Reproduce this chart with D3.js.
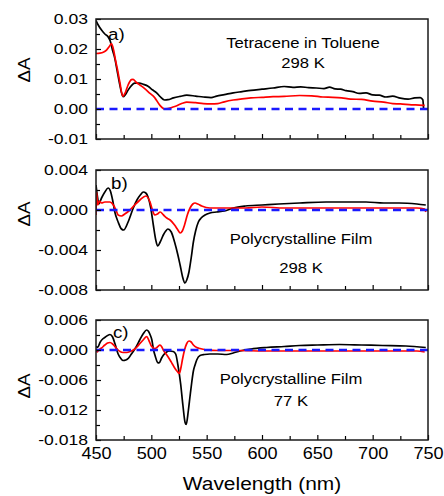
<!DOCTYPE html>
<html>
<head>
<meta charset="utf-8">
<script src="https://cdn.jsdelivr.net/npm/d3@7"></script>
<style>
  html, body { margin: 0; padding: 0; background: #fff; }
  svg { display: block; }
  text { font-family: "Liberation Sans", Arial, sans-serif; fill: #000; }
</style>
</head>
<body>
<svg id="chart" width="444" height="496"></svg>
<script>
// ---------------- DATA ----------------
const xTicks = [450, 500, 550, 600, 650, 700, 750];
const xMinorTicks = [475, 525, 575, 625, 675, 725];

const yTicksA = [-0.01, 0.00, 0.01, 0.02, 0.03];
const yMinorA = [-0.005, 0.005, 0.015, 0.025];
const yTicksB = [-0.008, -0.004, 0.000, 0.004];
const yMinorB = [-0.006, -0.002, 0.002];
const yTicksC = [-0.018, -0.012, -0.006, 0.000, 0.006];
const yMinorC = [-0.015, -0.009, -0.003, 0.003];

const panelLetters = ["a)", "b)", "c)"];
const panelTitles = [["Tetracene in Toluene", "298 K"], ["Polycrystalline Film", "298 K"], ["Polycrystalline Film", "77 K"]];

// Panel a: tetracene in toluene, 298 K  [wavelength nm, dA]
const tolueneBlack = [
  [450,0.0295],[452,0.0280],[455,0.0263],[458,0.0250],[461,0.0240],[463,0.0225],[465,0.0195],
  [467,0.0169],[469,0.0130],[471,0.0090],[473,0.0055],[474.5,0.0041],[476.5,0.0048],[479,0.0063],
  [482,0.0078],[485,0.0086],[489,0.0086],[493,0.0082],[497,0.0076],[501,0.0064],[504.8,0.0054],
  [508,0.0041],[512,0.0030],[515,0.0031],[520,0.0037],[526,0.0042],[532,0.0046],[540,0.0043],
  [547,0.0040],[554,0.0038],[559,0.0043],[566,0.0048],[574,0.0054],[582,0.0058],[590,0.0062],
  [600,0.0066],[610,0.0070],[620,0.0075],[628,0.0072],[635,0.0074],[642,0.0071],[649,0.0070],
  [656,0.0068],[661,0.0073],[666,0.0067],[671,0.0066],[676,0.0061],[682,0.0058],[688,0.0052],
  [694,0.0054],[700,0.0047],[706,0.0046],[712,0.0040],[718,0.0043],[725,0.0036],[732,0.0033],
  [738,0.0037],[743,0.0038],[745.3,0.0031],[746,0.0002]
];
const tolueneRed = [
  [450,0.0185],[453.6,0.0186],[457,0.0190],[459.7,0.0197],[462,0.0208],[464,0.0218],[466,0.0195],
  [467.5,0.0165],[469.5,0.0130],[471.5,0.0090],[474.2,0.0043],[476.5,0.0055],[479,0.0080],
  [482,0.0098],[483.5,0.0099],[486,0.0090],[489.7,0.0080],[494,0.0068],[498.8,0.0052],[503,0.0038],
  [507.8,0.0012],[512,0.0000],[515,0.0001],[519,0.0006],[523,0.0011],[528,0.0019],[532,0.0023],
  [540,0.0021],[547,0.0018],[554,0.0017],[560,0.0018],[566,0.0024],[574,0.0030],[582,0.0034],
  [590,0.0037],[600,0.0039],[610,0.0041],[620,0.0042],[634,0.0045],[645,0.0044],[655,0.0040],
  [664,0.0039],[672,0.0037],[680,0.0033],[690,0.0032],[700,0.0026],[710,0.0023],[718,0.0018],
  [725,0.0017],[735,0.0014],[742,0.0013],[747,0.0012]
];

// Panel b: polycrystalline film, 298 K
const film298Black = [
  [450,0.0025],[451.5,0.0012],[452.5,0.0006],[455,0.0012],[458,0.0018],[461,0.0022],[463,0.0019],
  [465,0.0010],[467,-0.0002],[470,-0.0012],[473,-0.0019],[475,-0.0020],[479,-0.0012],[483.7,0.0002],
  [487,0.0010],[490,0.0015],[492.8,0.0018],[495,0.0017],[497,0.0013],[499.5,0.0002],[501.8,-0.0015],
  [504,-0.0030],[505.7,-0.0036],[508,-0.0032],[510.8,-0.0025],[513,-0.0021],[515,-0.0019],
  [518,-0.0022],[521,-0.0032],[524,-0.0045],[526,-0.0055],[528.5,-0.0068],[530.4,-0.0073],
  [532,-0.0070],[534,-0.0062],[536,-0.0048],[538,-0.0032],[540,-0.0021],[542.5,-0.0012],
  [545,-0.0008],[548.5,-0.0005],[553,-0.0003],[559,-0.0002],[566,-0.0001],[574,0.0002],
  [585,0.0004],[600,0.0005],[615,0.0006],[634,0.0007],[658,0.0008],[676,0.0008],[694,0.0008],
  [710,0.0007],[724,0.0007],[740,0.0006],[748,0.0005]
];
const film298Red = [
  [450,-0.0005],[450.5,0.0018],[451.5,0.0005],[453,0.0009],[455,0.0007],[458,0.0008],[462.6,0.0008],
  [465.7,0.0005],[468,0.0000],[470,-0.0005],[473,-0.0006],[476,-0.0004],[480.7,0.0000],[485,0.0005],
  [489.7,0.0010],[495,0.0014],[498.8,0.0008],[501,0.0000],[503,-0.0005],[505.5,-0.0004],
  [508,-0.0002],[511,-0.0005],[514,-0.0008],[517,-0.0010],[521,-0.0015],[524,-0.0020],
  [526,-0.0023],[528,-0.0021],[530,-0.0015],[532.5,-0.0005],[535,0.0002],[537.5,0.0006],
  [539.5,0.0007],[542,0.0006],[545.5,0.0004],[553,0.0002],[559,0.0002],[570,0.0002],[585,0.0002],
  [600,0.0003],[620,0.0002],[640,0.0002],[660,0.0002],[680,0.0002],[700,0.0002],[720,0.0002],
  [740,0.0002],[747,0.0001],[748,-0.0002]
];

// Panel c: polycrystalline film, 77 K
const film77Black = [
  [450,0.0007],[451.5,0.0005],[453.6,0.0015],[456,0.0022],[458.5,0.0026],[462.6,0.0031],[465,0.0026],
  [467.5,0.0010],[470,-0.0008],[472.5,-0.0017],[474.5,-0.0021],[477,-0.0020],[479.5,-0.0016],
  [482,-0.0008],[484.5,0.0000],[487,0.0009],[489.5,0.0020],[492.8,0.0033],[495.8,0.0040],
  [497.5,0.0037],[499,0.0030],[500.5,0.0020],[502,0.0000],[503.5,-0.0012],[505.7,-0.0025],
  [507,-0.0026],[509.3,-0.0016],[511,-0.0010],[513.8,-0.0004],[516,-0.0002],[519.8,-0.0003],
  [522,-0.0008],[524,-0.0030],[526.5,-0.0068],[528.5,-0.0110],[530.5,-0.0145],[531.5,-0.0149],
  [533.4,-0.0122],[535,-0.0092],[536.5,-0.0065],[538,-0.0042],[539.5,-0.0030],[541,-0.0020],
  [544,-0.0011],[548,-0.0009],[553,-0.0008],[560,-0.0008],[568,-0.0009],[574,-0.0006],[580,-0.0002],
  [590,0.0002],[604,0.0005],[620,0.0007],[634,0.0009],[650,0.0010],[670,0.0011],[690,0.0010],
  [709,0.0009],[730,0.0008],[748,0.0005]
];
const film77Red = [
  [450,0.0002],[451,-0.0004],[452.5,0.0000],[455,0.0004],[458,0.0010],[460.5,0.0014],[462.6,0.0015],
  [465,0.0012],[467,0.0007],[469.5,0.0001],[471.7,-0.0003],[474.5,-0.0005],[477.7,-0.0005],
  [481,-0.0003],[483.7,0.0000],[487,0.0006],[489.7,0.0013],[493,0.0021],[495.8,0.0027],[498,0.0018],
  [500.3,0.0007],[503.3,0.0003],[505.5,0.0006],[507.8,0.0010],[509.5,0.0006],[510.8,0.0000],
  [514,-0.0010],[516.9,-0.0020],[519,-0.0028],[521.4,-0.0037],[523.5,-0.0043],[525.2,-0.0047],
  [526.8,-0.0035],[528.3,-0.0017],[530,0.0000],[532,0.0013],[534,0.0018],[536,0.0016],[538,0.0010],
  [541,0.0005],[544,0.0003],[550,0.0000],[560,-0.0001],[580,-0.0001],[600,-0.0002],[650,-0.0002],
  [700,-0.0002],[740,-0.0002],[747,-0.0004]
];

// ---------------- DRAW ----------------
const svg = d3.select("#chart");
const left = 96, right = 428;
const x = d3.scaleLinear().domain([450, 750]).range([left, right]);

const panels = [
  { top: 19, bottom: 139, domain: [-0.01, 0.03], ticks: yTicksA, minor: yMinorA, dec: 2,
    black: tolueneBlack, red: tolueneRed, letter: [108, 40], title: [303, 48, 68], ylab: 70 },
  { top: 170, bottom: 290, domain: [-0.008, 0.004], ticks: yTicksB, minor: yMinorB, dec: 3,
    black: film298Black, red: film298Red, letter: [111, 189], title: [301, 244, 273], ylab: 214 },
  { top: 320, bottom: 440, domain: [-0.018, 0.006], ticks: yTicksC, minor: yMinorC, dec: 3,
    black: film77Black, red: film77Red, letter: [113, 338], title: [291, 384, 406], ylab: 386 }
];

function sText(g, px, py, str, size, anchor, sx) {
  return g.append("text")
    .attr("transform", `translate(${px},${py}) scale(${sx},1)`)
    .attr("text-anchor", anchor)
    .style("font-size", size + "px")
    .text(str);
}

panels.forEach((p, i) => {
  const y = d3.scaleLinear().domain(p.domain).range([p.bottom, p.top]);
  const g = svg.append("g");

  const clipId = "clip" + i;
  svg.append("clipPath").attr("id", clipId).append("rect")
    .attr("x", left).attr("y", p.top).attr("width", right - left).attr("height", p.bottom - p.top);

  const line = d3.line().x(d => x(d[0])).y(d => y(d[1])).curve(d3.curveMonotoneX);
  const lg = g.append("g").attr("clip-path", `url(#${clipId})`);
  lg.append("path").datum(p.black).attr("d", line)
    .attr("fill", "none").attr("stroke", "#000").attr("stroke-width", 1.7).attr("stroke-linejoin", "round");
  lg.append("path").datum(p.red).attr("d", line)
    .attr("fill", "none").attr("stroke", "#ff0000").attr("stroke-width", 1.7).attr("stroke-linejoin", "round");
  lg.append("line")
    .attr("x1", x(450)).attr("x2", x(750)).attr("y1", y(0)).attr("y2", y(0))
    .attr("stroke", "#1a1aff").attr("stroke-width", 2.4).attr("stroke-dasharray", "8,5.5");

  const sxTick = 1.17;
  const ya = g.append("g").attr("transform", `translate(${left},0)`)
    .call(d3.axisLeft(y).tickValues(p.ticks).tickSize(-5).tickPadding(8)
      .tickFormat(d => d.toFixed(p.dec)));
  ya.select(".domain").remove();
  ya.selectAll(".tick line").attr("stroke", "#000").attr("stroke-width", 1.2);
  ya.selectAll(".tick text")
    .style("font-size", "15px")
    .attr("x", -8 / sxTick)
    .attr("transform", `scale(${sxTick},1)`);
  const ym = g.append("g").attr("transform", `translate(${left},0)`)
    .call(d3.axisLeft(y).tickValues(p.minor).tickSize(-4).tickFormat(""));
  ym.select(".domain").remove();
  ym.selectAll(".tick line").attr("stroke", "#000").attr("stroke-width", 1.2);

  const xa = g.append("g").attr("transform", `translate(0,${p.bottom})`)
    .call(d3.axisBottom(x).tickValues(xTicks).tickSize(-5).tickPadding(8)
      .tickFormat(i === 2 ? d3.format("d") : () => ""));
  xa.select(".domain").remove();
  xa.selectAll(".tick line").attr("stroke", "#000").attr("stroke-width", 1.2);
  xa.selectAll(".tick text").style("font-size", "16px").attr("transform", "scale(1.13,1)");
  const xm = g.append("g").attr("transform", `translate(0,${p.bottom})`)
    .call(d3.axisBottom(x).tickValues(xMinorTicks).tickSize(-4).tickFormat(""));
  xm.select(".domain").remove();
  xm.selectAll(".tick line").attr("stroke", "#000").attr("stroke-width", 1.2);

  g.append("rect").attr("x", left).attr("y", p.top).attr("width", right - left).attr("height", p.bottom - p.top)
    .attr("fill", "none").attr("stroke", "#1a1a1a").attr("stroke-width", 1.5);

  g.append("text")
    .attr("transform", `translate(30,${p.ylab}) rotate(-90) scale(1.1,1)`)
    .attr("text-anchor", "middle").style("font-size", "17px").text("ΔA");

  sText(g, p.letter[0], p.letter[1], panelLetters[i], 17, "start", 1.1);
  sText(g, p.title[0], p.title[1], panelTitles[i][0], 14.5, "middle", 1.15);
  sText(g, p.title[0], p.title[2], panelTitles[i][1], 14.5, "middle", 1.15);
});

// x label (kept fully inside the picture)
sText(svg, 262, 490, "Wavelength (nm)", 19, "middle", 1.1);
</script>
</body>
</html>
